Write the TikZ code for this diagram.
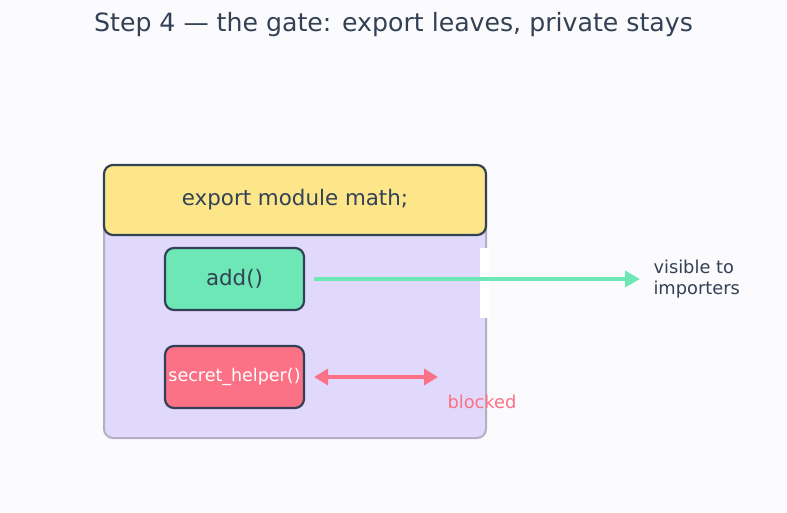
\documentclass[tikz,border=0pt]{standalone}
\usepackage{fontspec}
\setmainfont{DejaVu Sans}
\usetikzlibrary{arrows.meta,positioning}
\definecolor{ink}{HTML}{334155}
\definecolor{bgc}{HTML}{FBFBFE}
\definecolor{lav}{HTML}{E0D9FC}
\definecolor{lavline}{HTML}{B4AFC6}
\definecolor{yel}{HTML}{FDE68A}
\definecolor{mint}{HTML}{6EE7B7}
\definecolor{rose}{HTML}{FB7185}

\begin{document}
\begin{tikzpicture}[x=1pt,y=-1pt,
  box/.style={draw=ink,line width=2.2pt,rounded corners=9pt,inner sep=0pt},
  fn/.style={box,minimum width=139pt,minimum height=62pt},
  lbl/.style={font=\fontsize{17.8}{21}\selectfont,text=ink}]
\fill[bgc](0,0)rectangle(787,512);
\useasboundingbox(0,0)rectangle(787,512);
\node[font=\fontsize{25.2}{30}\selectfont,text=ink](title)at(393.5,25){Step 4 — the gate: export leaves, private stays};
% module body
\draw[fill=lav,draw=lavline,line width=2pt,rounded corners=9pt](104,190)rectangle(486,438);
\node[box,fill=yel,minimum width=382pt,minimum height=70pt,font=\fontsize{21.4}{25}\selectfont,text=ink](head)at(295,200){export module math;};
\node[fn,fill=mint,font=\fontsize{21.4}{25}\selectfont,text=ink](add)at(234.5,279){add()};
\node[fn,fill=rose,font=\fontsize{17.5}{20}\selectfont,text=white](secret)at(234.5,377){secret\_helper()};
% the gate
\fill[white](480,248)rectangle(489,318);
\node[lbl,anchor=west,align=left](vis)at(650,279){visible to\\importers};
\coordinate(wall)at(438,377);
\node[lbl,text=rose,anchor=west](blk)at(444,402){blocked};
\draw[mint,line width=3.5pt,-{Triangle[length=15pt,width=16pt]},shorten <=9pt,shorten >=10pt](add.east)--(vis.west);
\draw[rose,line width=3.5pt,{Triangle[length=14pt,width=16pt]}-{Triangle[length=14pt,width=16pt]},shorten <=9pt](secret.east)--(wall);
\end{tikzpicture}
\end{document}
